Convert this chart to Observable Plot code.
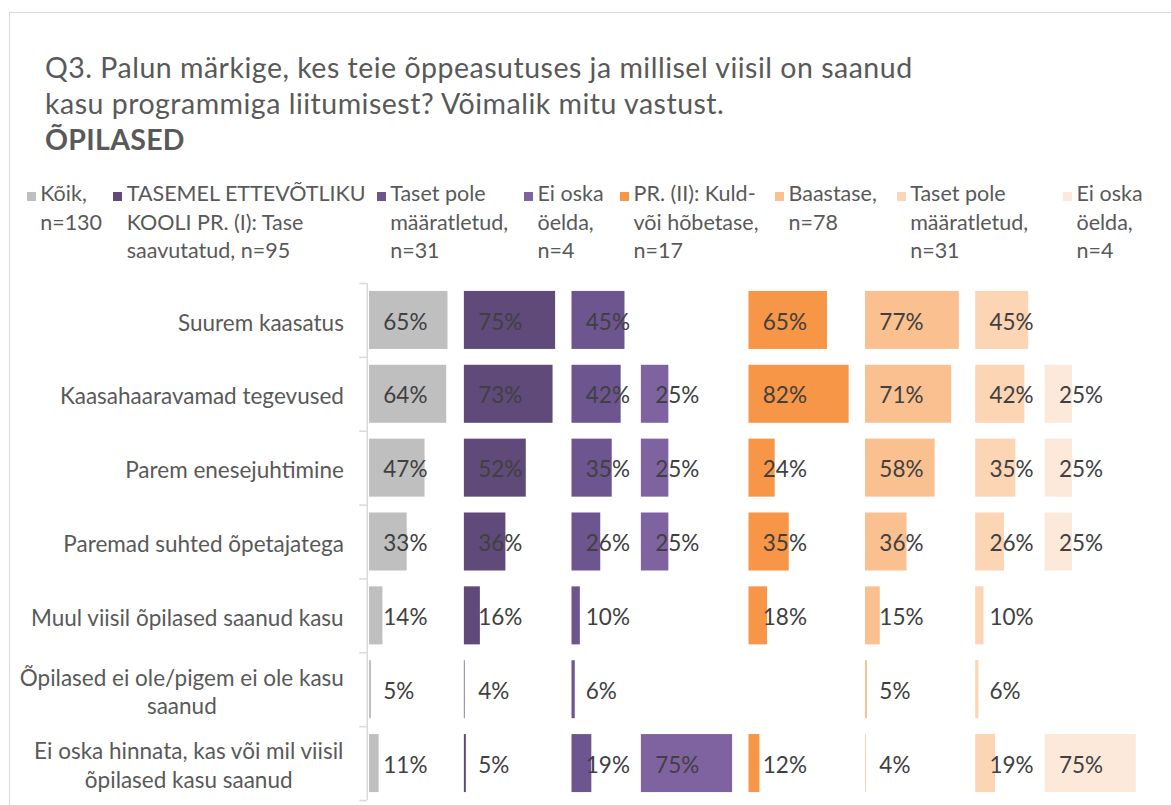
<!DOCTYPE html>
<html>
<head>
<meta charset="utf-8">
<script src="https://cdn.jsdelivr.net/npm/d3@7"></script>
<script src="https://cdn.jsdelivr.net/npm/@observablehq/plot@0.6"></script>
<style>
  html, body { margin: 0; padding: 0; background: #fff; }
  body { width: 1171px; height: 805px; position: relative; overflow: hidden; font-family: Lato, sans-serif; color: #595959; }
  #frame { position: absolute; left: 9px; top: 12px; width: 1300px; height: 900px; border: 1.5px solid #d9d9d9; box-sizing: border-box; }
  #title { position: absolute; left: 45px; top: 49px; font-size: 28.5px; letter-spacing: 0.5px; line-height: 36px; white-space: nowrap; }
  #title b { font-weight: 700; letter-spacing: 0.3px; }
  #legend { position: absolute; top: 179px; left: 0; width: 1171px; font-size: 21.5px; line-height: 28.5px; }
  .item { position: absolute; top: 0; display: flex; align-items: flex-start; }
  .sw { width: 9px; height: 9px; margin-top: 12.5px; margin-right: 4.5px; flex: none; }
  .lbl { white-space: pre; }
  #chart { position: absolute; left: 0; top: 270px; }
  #chart svg { display: block; }
</style>
</head>
<body>
<div id="frame"></div>
<div id="title"></div>
<div id="legend"></div>
<div id="chart"></div>
<script>
// ---------- data ----------
const titleLines = [
  "Q3. Palun märkige, kes teie õppeasutuses ja millisel viisil on saanud",
  "kasu programmiga liitumisest? Võimalik mitu vastust."
];
const titleBold = "ÕPILASED";

const categories = [
  "Suurem kaasatus",
  "Kaasahaaravamad tegevused",
  "Parem enesejuhtimine",
  "Paremad suhted õpetajatega",
  "Muul viisil õpilased saanud kasu",
  "Õpilased ei ole/pigem ei ole kasu saanud",
  "Ei oska hinnata, kas või mil viisil õpilased kasu saanud"
];
const categoryLabels = [
  "Suurem kaasatus",
  "Kaasahaaravamad tegevused",
  "Parem enesejuhtimine",
  "Paremad suhted õpetajatega",
  "Muul viisil õpilased saanud kasu",
  "Õpilased ei ole/pigem ei ole kasu\nsaanud",
  "Ei oska hinnata, kas või mil viisil\nõpilased kasu saanud"
];

const seriesNames = [
  "Kõik", "TASEMEL I", "Taset pole I", "Ei oska I",
  "PR II", "Baastase", "Taset pole II", "Ei oska II"
];
const seriesLegend = [
  "Kõik,\nn=130",
  "TASEMEL ETTEVÕTLIKU\nKOOLI PR. (I): Tase\nsaavutatud, n=95",
  "Taset pole\nmääratletud,\nn=31",
  "Ei oska\nöelda,\nn=4",
  "PR. (II): Kuld-\nvõi hõbetase,\nn=17",
  "Baastase,\nn=78",
  "Taset pole\nmääratletud,\nn=31",
  "Ei oska\nöelda,\nn=4"
];

const vKoik        = [65, 64, 47, 33, 14, 5, 11];
const vTasemel     = [75, 73, 52, 36, 16, 4, 5];
const vTasetPoleI  = [45, 42, 35, 26, 10, 6, 19];
const vEiOskaI     = [null, 25, 25, 25, null, null, 75];
const vPR2         = [65, 82, 24, 35, 18, null, 12];
const vBaastase    = [77, 71, 58, 36, 15, 5, 4];
const vTasetPoleII = [45, 42, 35, 26, 10, 6, 19];
const vEiOskaII    = [null, 25, 25, 25, null, null, 75];
const seriesValues = [vKoik, vTasemel, vTasetPoleI, vEiOskaI, vPR2, vBaastase, vTasetPoleII, vEiOskaII];

// ---------- style ----------
const seriesColors = ["#bfbfbf", "#5f4a7a", "#6d5590", "#7f63a1", "#f79646", "#fac090", "#fcd5b5", "#fde9d9"];
const legendLefts = [26.7, 113.3, 376.7, 524, 620, 775, 896.7, 1063];
const FONT = "Lato";
const LABEL_SIZE = 22.5;
const GAP = 9.4; // spacing between series groups, in % units

// ---------- title & legend ----------
const titleEl = document.getElementById("title");
titleEl.innerHTML = titleLines.join("<br>") + "<br><b>" + titleBold + "</b>";

const legendEl = document.getElementById("legend");
seriesNames.forEach((s, i) => {
  const item = document.createElement("div");
  item.className = "item";
  item.style.left = legendLefts[i] + "px";
  const sw = document.createElement("div");
  sw.className = "sw";
  sw.style.background = seriesColors[i];
  const lbl = document.createElement("div");
  lbl.className = "lbl";
  lbl.textContent = seriesLegend[i];
  item.appendChild(sw);
  item.appendChild(lbl);
  legendEl.appendChild(item);
});

// ---------- chart ----------
let acc = 0;
const offsets = seriesValues.map(vals => { const o = acc; acc += d3.max(vals) + GAP; return o; });
const total = acc;

const rows = [];
seriesValues.forEach((vals, si) => {
  vals.forEach((v, ci) => {
    if (v != null) rows.push({series: seriesNames[si], cat: categories[ci], value: v, offset: offsets[si]});
  });
});

const W = 1171, H = 535, ML = 366.8, MR = 21, MT = 13, MB = 5;
const step = (H - MT - MB) / categories.length;
const pxPerUnit = (W - ML - MR) / total;
const tickLen = 7.5 / pxPerUnit;

const ctx = document.createElement("canvas").getContext("2d");
ctx.font = `${LABEL_SIZE}px ${FONT}`;
const labelMarks = categories.map((c, i) => {
  const lines = categoryLabels[i].split("\n");
  const w = d3.max(lines, l => ctx.measureText(l).width);
  return Plot.text([c], {
    x: () => 0, y: d => d, text: () => categoryLabels[i],
    textAnchor: "middle", dx: -(23.4 + w / 2), dy: 1,
    lineHeight: 28.5 / LABEL_SIZE, fontSize: LABEL_SIZE, fill: "#595959"
  });
});

const chart = Plot.plot({
  width: W, height: H,
  marginLeft: ML, marginRight: MR, marginTop: MT, marginBottom: MB,
  x: {domain: [0, total], axis: null},
  y: {domain: categories, axis: null, paddingInner: 0.155, paddingOuter: 0.0775, round: false},
  color: {domain: seriesNames, range: seriesColors},
  style: {fontFamily: FONT, background: "transparent", overflow: "visible"},
  marks: [
    Plot.barX(rows, {x1: "offset", x2: d => d.offset + d.value, y: "cat", fill: "series", inset: 2.2}),
    Plot.text(rows, {x: "offset", y: "cat", text: d => d.value + "%", textAnchor: "start", dx: 16, dy: 2, fill: "#404040", fontSize: LABEL_SIZE}),
    Plot.ruleX([0], {stroke: "#d9d9d9", strokeWidth: 1.5}),
    Plot.ruleY(categories, {y: d => d, x1: () => 0, x2: () => -tickLen, dy: -step / 2, stroke: "#d9d9d9", strokeWidth: 1.5}),
    Plot.ruleY([categories[categories.length - 1]], {y: d => d, x1: () => 0, x2: () => -tickLen, dy: step / 2, stroke: "#d9d9d9", strokeWidth: 1.5}),
    ...labelMarks
  ]
});
document.getElementById("chart").appendChild(chart);
</script>
</body>
</html>
